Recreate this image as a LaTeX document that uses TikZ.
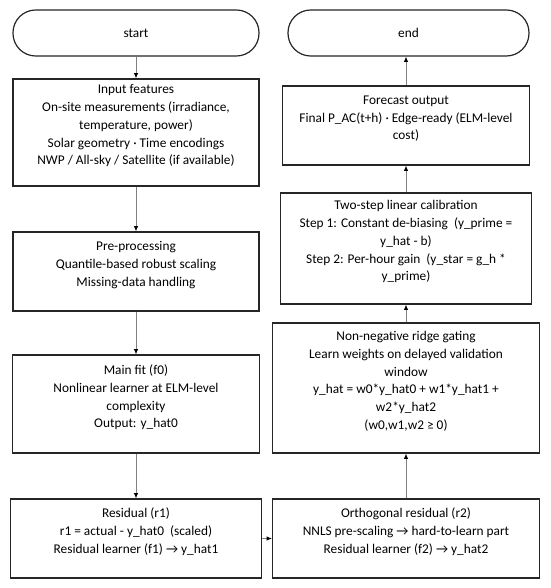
\documentclass[tikz,border=0pt]{standalone}
\usepackage{fontspec}
\setmainfont{Carlito}
\usetikzlibrary{arrows.meta}
\tikzset{
	stage/.style={draw=black!85, line width=0.9pt, fill=white},
	term/.style={stage, rounded corners=17pt, text=black, font=\fontsize{10}{13.3}\selectfont},
	txt/.style={align=center, text=black, font=\fontsize{10}{13.3}\selectfont, inner sep=0pt},
	flow/.style={draw=black!50, line width=0.75pt, -{Latex[black, length=4pt, width=3.5pt]}},
}
\begin{document}
\begin{tikzpicture}[x=0.75pt, y=-0.75pt]
	\useasboundingbox (0,0) rectangle (550,588);
	% left column
	\node[term, minimum width=184.5pt, minimum height=34.5pt] (start) at (136,33) {start};
	\node[stage, minimum width=184.5pt, minimum height=80.25pt] (inp) at (136,132.5) {};
	\node[txt, yshift=5pt] (inp-t) at (inp) {Input features\\On-site measurements (irradiance,\\temperature, power)\\Solar geometry · Time encodings\\NWP / All-sky / Satellite (if available)};
	\node[stage, minimum width=184.5pt, minimum height=59.25pt] (pre) at (136,271.5) {};
	\node[txt, yshift=5pt] (pre-t) at (pre) {Pre-processing\\Quantile-based robust scaling\\Missing-data handling};
	\node[stage, minimum width=185.25pt, minimum height=73.5pt] (fit) at (136,404) {};
	\node[txt, yshift=5pt] (fit-t) at (fit) {Main fit (f0)\\Nonlinear learner at ELM-level\\complexity\\Output: y\_hat0};
	\node[stage, minimum width=188.25pt, minimum height=59.25pt] (res) at (136,538.5) {};
	\node[txt, yshift=5pt] (res-t) at (res) {Residual (r1)\\r1 = actual - y\_hat0\ \ (scaled)\\Residual learner (f1) → y\_hat1};
	% right column
	\node[stage, minimum width=200.25pt, minimum height=59.25pt] (orth) at (406,538.5) {};
	\node[txt, yshift=5pt] (orth-t) at (orth) {Orthogonal residual (r2)\\NNLS pre-scaling → hard-to-learn part\\Residual learner (f2) → y\_hat2};
	\node[stage, minimum width=200.25pt, minimum height=97.5pt] (gate) at (406,388) {};
	\node[txt, yshift=5pt] (gate-t) at (gate) {Non-negative ridge gating\\Learn weights on delayed validation\\window\\y\_hat = w0*y\_hat0 + w1*y\_hat1 +\\w2*y\_hat2\\(w0,w1,w2 ≥ 0)};
	\node[stage, minimum width=188.25pt, minimum height=83.25pt] (calib) at (406,248.5) {};
	\node[txt, yshift=5pt] (calib-t) at (calib) {Two-step linear calibration\\Step 1: Constant de-biasing\ \ (y\_prime =\\y\_hat - b)\\Step 2: Per-hour gain\ \ (y\_star = g\_h *\\y\_prime)};
	\node[stage, minimum width=185.25pt, minimum height=59.25pt] (out) at (406,125.5) {};
	\node[txt, yshift=5pt] (out-t) at (out) {Forecast output\\Final P\_AC(t+h) · Edge-ready (ELM-level\\cost)};
	\node[term, minimum width=180.75pt, minimum height=34.5pt] (end) at (408.5,33) {end};
	% connectors
	\draw[flow] (start) -- (inp);
	\draw[flow] (inp) -- (pre);
	\draw[flow] (pre) -- (fit);
	\draw[flow] (fit) -- (res);
	\draw[flow] (res) -- (orth);
	\draw[flow] (orth) -- (gate);
	\draw[flow] (gate) -- (calib);
	\draw[flow] (calib) -- (out);
	\draw[flow] (out.north) -- (out.north |- end.south);
\end{tikzpicture}
\end{document}
